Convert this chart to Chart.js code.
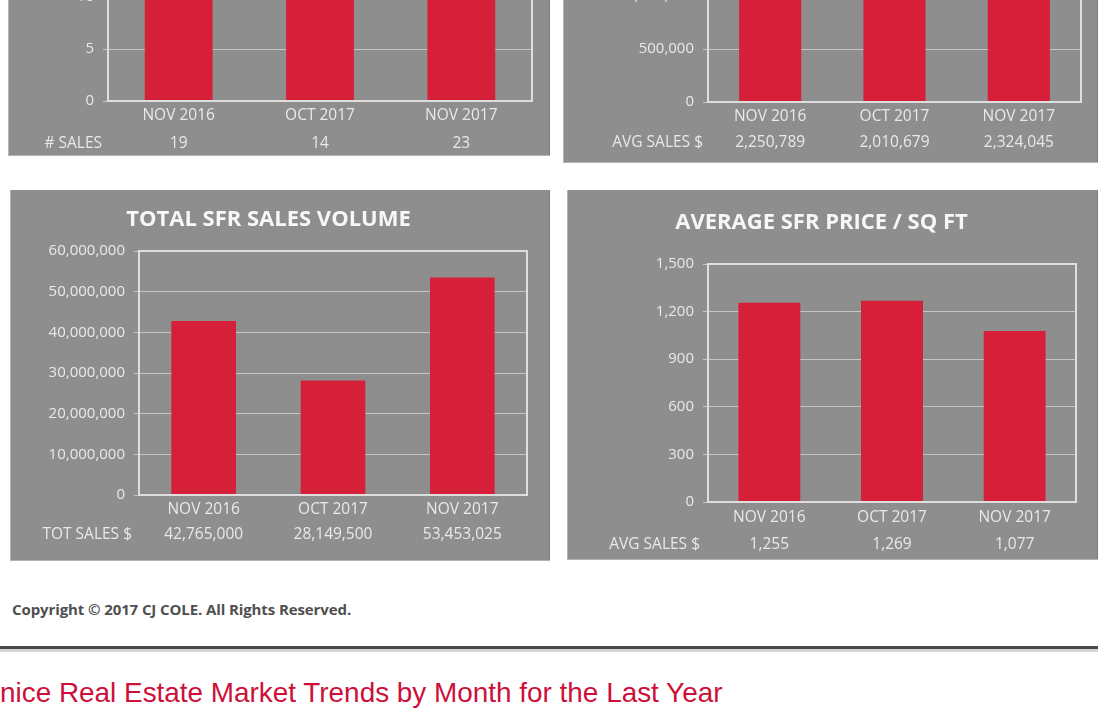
<!DOCTYPE html>
<html>
<head>
<meta charset="utf-8">
<script src="https://cdn.jsdelivr.net/npm/chart.js@4.4.0/dist/chart.umd.min.js"></script>
<style>
html,body{margin:0;padding:0;background:#fff;}
body{width:1098px;height:725px;overflow:hidden;position:relative;font-family:"Open Sans",sans-serif;}
.panel{position:absolute;background:#8e8e8e;box-shadow:inset 1px -1px 0 #b3b3b3, inset -1px 0 0 #7c7c7c;}
.panel canvas{display:block;}
#copy{position:absolute;left:12px;top:599px;font-weight:bold;font-size:15px;line-height:20px;color:#4f4f4f;letter-spacing:-0.1px;white-space:nowrap;}
#rule1{position:absolute;left:0;top:646px;width:1098px;height:3px;background:#4a4a4a;}
#rule2{position:absolute;left:0;top:649px;width:1098px;height:3px;background:#d6d6d6;}
#link{position:absolute;left:0;top:676px;font-family:"Liberation Sans",Arial,sans-serif;font-size:27.9px;line-height:34px;color:#cc1039;white-space:nowrap;}
</style>
</head>
<body>
<div class="panel" id="p1" style="left:8px;top:-200px;width:542px;height:356px;"><canvas id="c1"></canvas></div>
<div class="panel" id="p2" style="left:563px;top:-200px;width:535px;height:363px;"><canvas id="c2"></canvas></div>
<div class="panel" id="p3" style="left:10px;top:190px;width:540px;height:371px;"><canvas id="c3"></canvas></div>
<div class="panel" id="p4" style="left:567px;top:190px;width:531px;height:370px;"><canvas id="c4"></canvas></div>
<div id="copy">Copyright © 2017 CJ COLE. All Rights Reserved.</div>
<div id="rule1"></div><div id="rule2"></div>
<div id="link">nice Real Estate Market Trends by Month for the Last Year</div>
<script>
// ---- data ----
const categories = ['NOV 2016', 'OCT 2017', 'NOV 2017'];
const salesCount = [19, 14, 23];
const avgSalesPrice = [2250789, 2010679, 2324045];
const totalSalesVolume = [42765000, 28149500, 53453025];
const avgPricePerSqFt = [1255, 1269, 1077];

const salesCountTicks = [0, 5, 10, 15, 20, 25];
const avgSalesPriceTicks = [0, 500000, 1000000, 1500000, 2000000, 2500000];
const totalVolumeTicks = [0, 10000000, 20000000, 30000000, 40000000, 50000000, 60000000];
const pricePerSqFtTicks = [0, 300, 600, 900, 1200, 1500];

const rowHeaders = ['# SALES', 'AVG SALES $', 'TOT SALES $', 'AVG SALES $'];
const chartTitles = ['', '', 'TOTAL SFR SALES VOLUME', 'AVERAGE SFR PRICE / SQ FT'];

// ---- rendering ----
Chart.defaults.font.family = "'Open Sans', sans-serif";
const fmt = v => Number(v).toLocaleString('en-US');
const BAR = '#d6203a';
const TXT = '#e9e9e9';
const GRID = '#c6c6c6';

const framePlugin = {
  id: 'frame',
  afterDatasetsDraw(chart) {
    const a = chart.chartArea, ctx = chart.ctx;
    ctx.save();
    ctx.strokeStyle = '#dedede';
    ctx.lineWidth = 2;
    ctx.strokeRect(a.left, a.top, a.right - a.left, a.bottom - a.top);
    ctx.restore();
  }
};
const rowHeaderPlugin = {
  id: 'rowHeader',
  afterDraw(chart, args, opts) {
    const xs = chart.scales.x, ctx = chart.ctx;
    const lh = opts.lineHeight, pad = opts.pad;
    ctx.save();
    ctx.font = opts.font;
    ctx.fillStyle = TXT;
    ctx.textAlign = 'right';
    ctx.textBaseline = 'middle';
    ctx.fillText(opts.text, chart.chartArea.left - opts.gap, xs.top + pad + lh * 1.5);
    ctx.restore();
  }
};

function makeChart(id, values, ticks, header, title, g) {
  const cv = document.getElementById(id);
  const panel = cv.parentElement;
  const W = panel.offsetWidth, H = panel.offsetHeight;
  cv.width = W; cv.height = H;
  cv.style.width = W + 'px'; cv.style.height = H + 'px';
  const hasTitle = !!title;
  return new Chart(cv, {
    type: 'bar',
    data: {
      labels: categories,
      datasets: [{ data: values, backgroundColor: BAR, borderWidth: 0,
                   barPercentage: g.bar, categoryPercentage: 1 }]
    },
    options: {
      responsive: false,
      animation: false,
      devicePixelRatio: 1,
      layout: { padding: { top: hasTitle ? 0 : g.top, right: g.right, left: 0, bottom: 0 } },
      plugins: {
        legend: { display: false },
        tooltip: { enabled: false },
        title: {
          display: hasTitle,
          text: title,
          color: '#f7f7f7',
          font: { size: 22, weight: 'bold', lineHeight: '24px' },
          padding: { top: g.tTop || 0, bottom: g.tBot || 0 }
        },
        rowHeader: { text: header, font: "15.5px 'Open Sans'", lineHeight: g.lh, pad: g.pad, gap: g.gap }
      },
      scales: {
        x: {
          grid: { display: false, drawTicks: false },
          border: { display: false },
          ticks: {
            color: TXT, padding: g.pad, maxRotation: 0, autoSkip: false,
            font: { size: 15.5, lineHeight: g.lh + 'px' },
            callback: (v, i) => [categories[i], fmt(values[i])]
          },
          afterFit: s => { s.height = g.xh; }
        },
        y: {
          min: ticks[0], max: ticks[ticks.length - 1],
          grid: { color: GRID, lineWidth: 1, drawTicks: true, tickLength: 5, tickColor: GRID },
          border: { display: false },
          ticks: { color: TXT, stepSize: ticks[1] - ticks[0], padding: 9,
                   font: { size: 15 }, callback: v => fmt(v) },
          afterFit: s => { s.width = g.yw; }
        }
      }
    },
    plugins: [framePlugin, rowHeaderPlugin]
  });
}

makeChart('c1', salesCount, salesCountTicks, rowHeaders[0], chartTitles[0],
  { top: 41, right: 18, yw: 100, xh: 55, lh: 28, pad: 1, gap: 6, bar: 0.48 });
makeChart('c2', avgSalesPrice, avgSalesPriceTicks, rowHeaders[1], chartTitles[1],
  { top: 37, right: 17, yw: 145, xh: 61, lh: 26, pad: 2, gap: 5, bar: 0.5 });
makeChart('c3', totalSalesVolume, totalVolumeTicks, rowHeaders[2], chartTitles[2],
  { top: 61, right: 23, yw: 129, xh: 66, lh: 25, pad: 2.5, gap: 7, bar: 0.5, tTop: 18, tBot: 19 });
makeChart('c4', avgPricePerSqFt, pricePerSqFtTicks, rowHeaders[3], chartTitles[3],
  { top: 74, right: 22, yw: 141, xh: 58, lh: 27, pad: 2.5, gap: 8, bar: 0.505, tTop: 21, tBot: 29 });
</script>
</body>
</html>
